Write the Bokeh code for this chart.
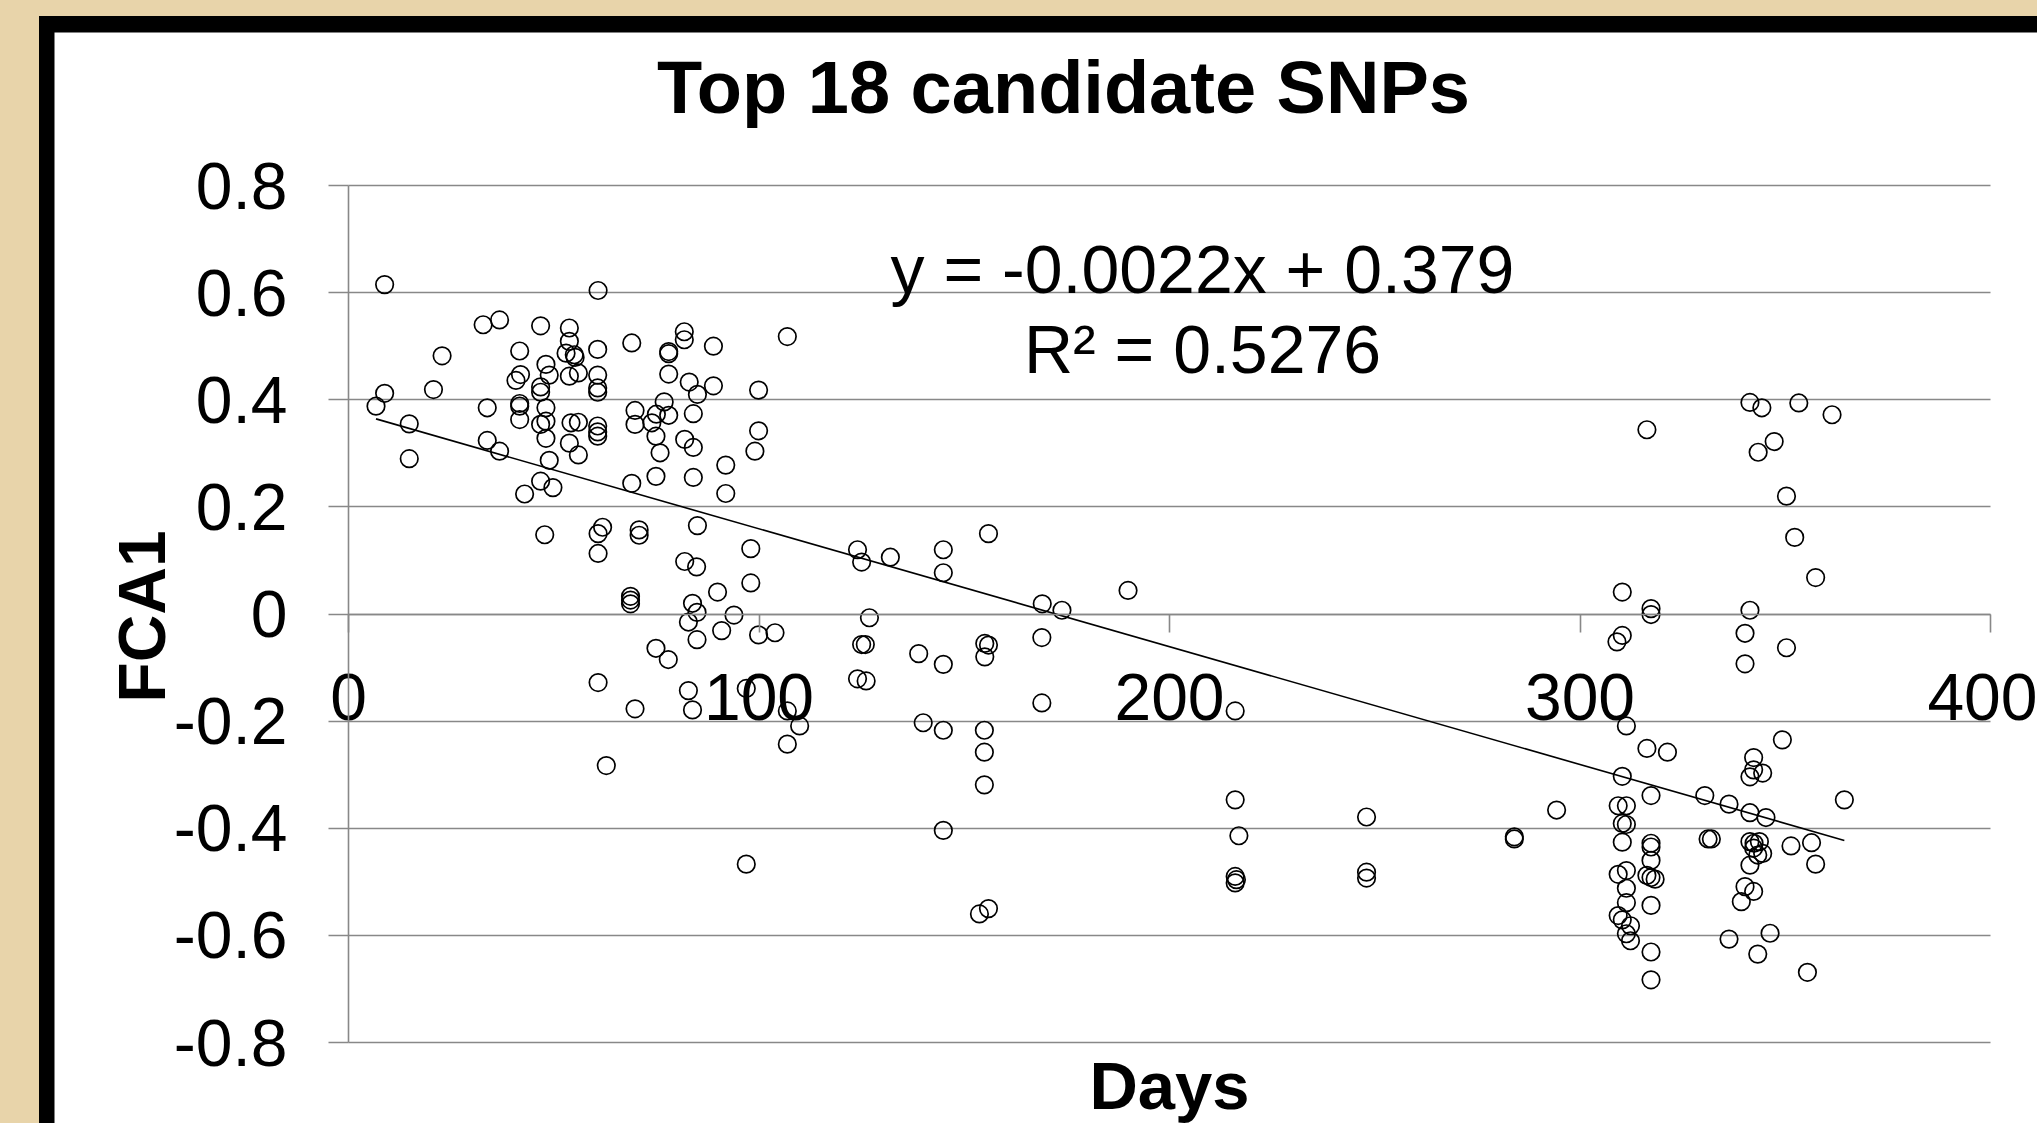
import math
from bokeh.plotting import figure
from bokeh.models import Range1d, FixedTicker, Label, Grid
from bokeh.embed import file_html
from bokeh.resources import INLINE

# ---------------- data ----------------
days = [
    # early cluster (0-65 days)
    8.8, 60.8, 32.8, 36.8, 46.8, 22.8, 41.7, 53.8, 53.8, 53.0, 55.0, 55.2, 60.7,
    48.1, 48.9, 41.9, 40.8, 53.8, 56.0, 60.7, 60.7, 60.7, 46.8, 46.8, 8.8, 6.7,
    20.7, 33.8, 41.7, 41.7, 41.7, 48.1, 48.1, 46.8, 48.1, 54.2, 56.0, 60.7, 60.7,
    60.7, 14.8, 14.8, 33.8, 36.8, 53.8, 56.0, 48.9, 46.8, 49.8, 42.9, 47.8, 60.8,
    61.9, 60.8, 60.8, 62.8,
    # 65-110 days
    69.0, 81.8, 81.8, 78.0, 78.0, 88.9, 106.9, 78.0, 83.0, 88.9, 85.0, 99.9, 76.9,
    69.8, 78.0, 75.0, 84.0, 69.8, 73.9, 74.9, 81.9, 84.0, 99.9, 99.0, 75.9, 91.9,
    69.0, 74.9, 84.0, 91.9, 70.8, 70.8, 85.0, 98.0, 81.9, 84.8, 98.0, 89.9, 68.7,
    68.7, 68.7, 83.8, 84.9, 93.9, 82.8, 90.9, 99.9, 103.9, 84.9, 74.9, 77.9, 69.8,
    82.8, 83.8, 96.9, 106.9, 109.9, 106.9, 96.9,
    # 120-220 days
    124.0, 125.0, 132.0, 144.9, 144.9, 155.9, 169.0, 173.8, 189.9, 126.9, 125.0,
    125.9, 138.9, 144.9, 155.0, 155.9, 155.0, 168.9, 124.0, 126.1, 168.9, 216.0,
    140.0, 144.9, 154.9, 154.9, 154.9, 216.0, 144.9, 216.9, 216.0, 216.3, 216.0,
    155.9, 153.7,
    # 240-300 days
    248.0, 248.0, 248.0, 284.0, 284.0, 294.3,
    # 300-370 days
    341.4, 344.3, 353.3, 361.4, 316.3, 347.3, 343.4, 350.3, 352.3, 357.4, 310.3,
    317.3, 317.3, 341.4, 310.3, 309.0, 340.2, 350.3, 340.2, 311.3, 316.3, 321.3,
    349.3, 310.3, 317.3, 330.4, 336.3, 341.4, 345.3, 364.4, 342.3, 342.3, 344.5,
    341.4, 309.3, 311.3, 310.3, 311.3, 310.3, 317.3, 317.3, 317.3, 309.3, 311.3,
    316.3, 318.3, 317.3, 311.3, 311.3, 309.3, 310.3, 312.3, 311.3, 312.3, 317.3,
    317.3, 317.3, 331.2, 332.0, 341.4, 342.4, 343.7, 342.3, 344.5, 343.3, 341.4,
    351.4, 356.4, 357.4, 340.2, 342.3, 339.3, 336.3, 346.3, 343.3, 355.4,
]
fca1 = [
    0.615, 0.604, 0.540, 0.549, 0.538, 0.482, 0.491, 0.534, 0.509, 0.487, 0.484, 0.479, 0.494,
    0.466, 0.446, 0.447, 0.436, 0.444, 0.450, 0.446, 0.422, 0.414, 0.424, 0.414, 0.412, 0.388,
    0.419, 0.385, 0.393, 0.388, 0.363, 0.385, 0.360, 0.354, 0.328, 0.357, 0.358, 0.351, 0.340,
    0.332, 0.355, 0.290, 0.324, 0.304, 0.319, 0.297, 0.287, 0.248, 0.236, 0.224, 0.148, 0.150,
    0.162, 0.113, -0.128, -0.283,
    0.506, 0.527, 0.512, 0.490, 0.486, 0.500, 0.518, 0.448, 0.433, 0.426, 0.410, 0.418, 0.396,
    0.380, 0.371, 0.373, 0.374, 0.354, 0.357, 0.332, 0.326, 0.311, 0.342, 0.304, 0.301, 0.278,
    0.244, 0.257, 0.255, 0.225, 0.157, 0.147, 0.165, 0.122, 0.098, 0.088, 0.058, 0.041, 0.033,
    0.026, 0.019, 0.020, 0.003, -0.002, -0.015, -0.031, -0.039, -0.035, -0.048, -0.064, -0.085, -0.177,
    -0.143, -0.179, -0.139, -0.181, -0.209, -0.243, -0.467,
    0.120, 0.097, 0.106, 0.120, 0.077, 0.150, 0.019, 0.007, 0.044, -0.007, -0.057,
    -0.057, -0.074, -0.094, -0.055, -0.058, -0.080, -0.044, -0.121, -0.125, -0.166, -0.181,
    -0.203, -0.217, -0.217, -0.258, -0.319, -0.347, -0.404, -0.414, -0.490, -0.496, -0.502,
    -0.550, -0.560,
    -0.379, -0.482, -0.493, -0.416, -0.420, -0.366,
    0.395, 0.385, 0.394, 0.372, 0.344, 0.322, 0.302, 0.220, 0.143, 0.068, 0.041,
    0.010, -0.001, 0.007, -0.040, -0.052, -0.036, -0.063, -0.093, -0.209, -0.251, -0.258,
    -0.235, -0.303, -0.339, -0.339, -0.355, -0.371, -0.380, -0.347, -0.268, -0.291, -0.297,
    -0.304, -0.358, -0.358, -0.391, -0.393, -0.426, -0.428, -0.435, -0.460, -0.486, -0.479,
    -0.488, -0.495, -0.492, -0.512, -0.539, -0.563, -0.571, -0.582, -0.597, -0.610, -0.544,
    -0.631, -0.683, -0.420, -0.420, -0.425, -0.428, -0.425, -0.437, -0.447, -0.450, -0.469,
    -0.433, -0.427, -0.467, -0.509, -0.518, -0.537, -0.607, -0.596, -0.635, -0.669,
]

title_text = "Top 18 candidate SNPs"
x_label = "Days"
y_label = "FCA1"
x_ticks = [0, 100, 200, 300, 400]
y_ticks = [-0.8, -0.6, -0.4, -0.2, 0.0, 0.2, 0.4, 0.6, 0.8]
y_tick_labels = ["-0.8", "-0.6", "-0.4", "-0.2", "0", "0.2", "0.4", "0.6", "0.8"]
trend_slope = -0.0022
trend_intercept = 0.379
r_squared = 0.5276

# ---------------- geometry & styling ----------------
TAN = "#E8D4AA"
GRID = "#888888"
FONT = "Liberation Sans"

W, H = 2037, 1123
AX_X0, AX_X400 = 348, 1990      # pixel columns of day 0 and day 400
AX_Y08, AX_YM08 = 185, 1042     # pixel rows of +0.8 and -0.8
STUB = 20                        # gridline stub left of the axis
PANEL_LEFT, PANEL_TOP = 54, 32   # inner edge of the black frame (white panel)
px_day = (AX_X400 - AX_X0) / 400.0
px_unit = (AX_YM08 - AX_Y08) / 1.6


def day_at(px):
    return (px - AX_X0) / px_day


def val_at(py):
    return 0.8 - (py - AX_Y08) / px_unit


x_lo, x_hi = day_at(PANEL_LEFT), day_at(W)
y_lo, y_hi = val_at(H), val_at(PANEL_TOP)

p = figure(
    width=W, height=H,
    x_range=Range1d(x_lo, x_hi), y_range=Range1d(y_lo, y_hi),
    output_backend="svg", toolbar_location=None,
    min_border_left=PANEL_LEFT, min_border_right=0, min_border_top=PANEL_TOP, min_border_bottom=0,
    border_fill_color=None, background_fill_color="white", outline_line_color=None,
)
# parchment page and thick black frame behind the transparent canvas border
p.styles = {
    "background": (
        "linear-gradient(black, black) 39px 16px / 100% 100% no-repeat, " + TAN
    )
}

# y axis crossing at day 0
p.yaxis.fixed_location = 0
p.yaxis.bounds = (-0.8, 0.8)
p.yaxis.ticker = FixedTicker(ticks=y_ticks)
p.yaxis.major_label_overrides = dict(zip(y_ticks, y_tick_labels))
p.yaxis.major_label_text_font = FONT
p.yaxis.major_label_text_font_size = "66px"
p.yaxis.major_label_text_color = "black"
p.yaxis.major_label_standoff = 41
p.yaxis.axis_line_color = GRID
p.yaxis.axis_line_width = 1.6
p.yaxis.major_tick_out = STUB
p.yaxis.major_tick_in = 0
p.yaxis.major_tick_line_color = GRID
p.yaxis.major_tick_line_width = 1.6
p.yaxis.minor_tick_line_color = None

# x axis crossing at y = 0
p.xaxis.fixed_location = 0
p.xaxis.bounds = (0, 400)
p.xaxis.ticker = FixedTicker(ticks=x_ticks)
p.xaxis.major_label_text_font = FONT
p.xaxis.major_label_text_font_size = "66px"
p.xaxis.major_label_text_color = "black"
p.xaxis.major_label_standoff = 42
p.xaxis.axis_line_color = GRID
p.xaxis.axis_line_width = 1.6
p.xaxis.major_tick_out = 18
p.xaxis.major_tick_in = 0
p.xaxis.major_tick_line_color = GRID
p.xaxis.major_tick_line_width = 1.6
p.xaxis.minor_tick_line_color = None

p.xgrid.visible = False
p.ygrid.ticker = FixedTicker(ticks=y_ticks)
p.ygrid.grid_line_color = GRID
p.ygrid.grid_line_width = 1.6
if "cross_bounds" in Grid.properties():
    p.ygrid.cross_bounds = (0, 400)

# points
p.scatter(days, fca1, marker="circle", size=17.5, fill_color=None,
          line_color="black", line_width=1.7)

# linear trendline over the data span
x0, x1 = min(days), max(days)
p.line([x0, x1], [trend_slope * x0 + trend_intercept, trend_slope * x1 + trend_intercept],
       line_color="black", line_width=1.6)

# title
p.add_layout(Label(x=day_at(1063), y=val_at(87), text=title_text,
                   text_align="center", text_baseline="middle",
                   text_font=FONT, text_font_size="74px", text_font_style="bold",
                   text_color="black"))

# trendline equation
p.add_layout(Label(x=day_at(1202), y=val_at(268),
                   text=f"y = {trend_slope}x + {trend_intercept}",
                   text_align="center", text_baseline="middle",
                   text_font=FONT, text_font_size="68px", text_color="black"))
p.add_layout(Label(x=day_at(1202), y=val_at(348),
                   text=f"R\u00b2 = {r_squared}",
                   text_align="center", text_baseline="middle",
                   text_font=FONT, text_font_size="68px", text_color="black"))

# axis titles
p.add_layout(Label(x=day_at(1169), y=val_at(1085), text=x_label,
                   text_align="center", text_baseline="middle",
                   text_font=FONT, text_font_size="67px", text_font_style="bold",
                   text_color="black"))
p.add_layout(Label(x=day_at(141), y=val_at(616), text=y_label, angle=math.pi / 2,
                   text_align="center", text_baseline="middle",
                   text_font=FONT, text_font_size="66px", text_font_style="bold",
                   text_color="black"))

open("out.html", "w").write(file_html(p, INLINE))
